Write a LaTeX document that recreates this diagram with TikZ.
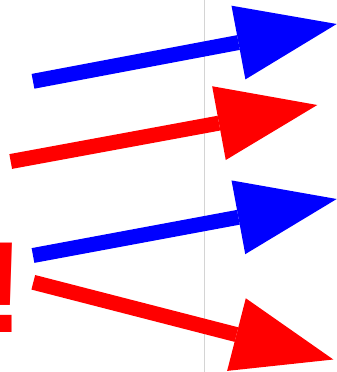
\documentclass[tikz,border=0pt]{standalone}
\usepackage{fontspec}
\setmainfont{Liberation Sans}
\usetikzlibrary{arrows.meta}
\tikzset{
  bigarrow/.style={line width=15pt, -{Triangle[length=100pt,width=75pt,line width=0pt]}},
  guide/.style={draw=black!17, line width=1.5pt},
}
\begin{document}
\begin{tikzpicture}[x=1pt,y=-1pt]
\useasboundingbox (0,0) rectangle (337,372);
\clip (0,0) rectangle (337,372);
\coordinate (gtop) at (204.3,0);
\coordinate (gbot) at (204.3,372);
\draw[guide] (gtop) -- (gbot);
\node[text=red, font=\bfseries\fontsize{130}{130}\selectfont, inner sep=0pt, anchor=base west] (bang) at (-19,332) {!};
\coordinate (a1s) at (33,81.3);
\coordinate (a1e) at (336.7,24);
\coordinate (a2s) at (10.7,161.5);
\coordinate (a2e) at (317.3,105);
\coordinate (a3s) at (33,255.5);
\coordinate (a3e) at (336.7,199);
\coordinate (a4s) at (33.3,282.3);
\coordinate (a4e) at (333.3,359.5);
\draw[bigarrow, blue] (a1s) -- (a1e);
\draw[bigarrow, red] (a2s) -- (a2e);
\draw[bigarrow, blue] (a3s) -- (a3e);
\draw[bigarrow, red] (a4s) -- (a4e);
\end{tikzpicture}
\end{document}
